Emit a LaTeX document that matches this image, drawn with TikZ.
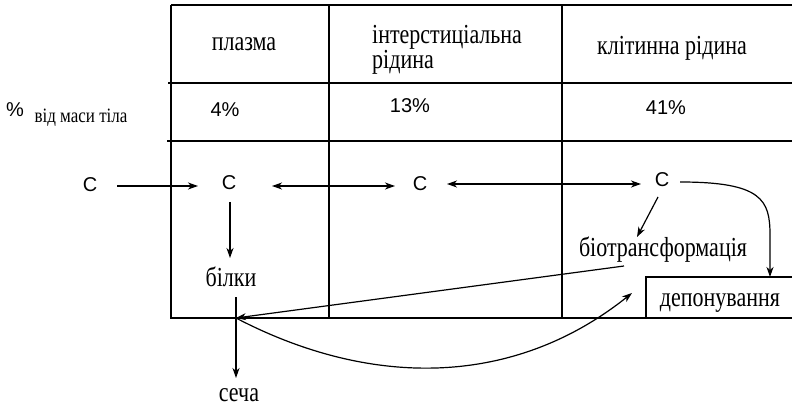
\documentclass[tikz,border=0pt]{standalone}
\usepackage{graphicx}
\usepackage{fontspec}
\setmainfont{Liberation Serif}
\newfontfamily\arialf{Liberation Sans}
\usetikzlibrary{arrows.meta,calc}
\newcommand\tl[1]{\scalebox{1}[1.25]{#1}}
\begin{document}
\begin{tikzpicture}[x=1pt,y=-1pt,
  tab/.style={line width=1.4pt},
  conn/.style={line width=1.2pt,-{Stealth[length=10pt,width=7pt,inset=3pt]}},
  dconn/.style={line width=1.2pt,{Stealth[length=10pt,width=7pt,inset=3pt]}-{Stealth[length=10pt,width=7pt,inset=3pt]}},
  ser/.style={inner sep=0pt,font=\fontsize{22}{21}\selectfont},
  sers/.style={inner sep=0pt,font=\fontsize{17}{17}\selectfont},
  san/.style={inner sep=0pt,font=\arialf\fontsize{20}{20}\selectfont},
]
\useasboundingbox (0,0) rectangle (792,406);
% table
\draw[tab] (171,5) -- (792,5);
\draw[tab] (168,83) -- (792,83);
\draw[tab] (167,141) -- (792,141);
\draw[tab] (171,5) -- (171,318) -- (792,318);
\draw[tab] (329,5) -- (329,318);
\draw[tab] (562,5) -- (562,318);
\draw[tab] (792,277) -- (646,277) -- (646,318);
% headers
\node[ser] (plazma) at (244,44) {\tl{плазма}};
\node[ser,anchor=west,align=left] (inter) at (372,50) {\tl{інтерстиціальна}\\\tl{рідина}};
\node[ser] (klit) at (672,48) {\tl{клітинна рідина}};
% row 2
\node[san] (pct) at (15,110) {\%};
\node[sers] (vid) at (81,118) {\scalebox{1}[1.2]{від маси тіла}};
\node[san] (p4) at (225,110) {4\%};
\node[san] (p13) at (410,106) {13\%};
\node[san] (p41) at (666,108) {41\%};
% row 3
\node[san] (C0) at (90,185) {C};
\node[san] (Cp) at (229,183) {C};
\node[san] (Ci) at (420,184) {C};
\node[san] (Cc) at (662,180) {C};
\node[ser] (bilky) at (231,277) {\tl{білки}};
\node[ser] (secha) at (239,395) {\tl{сеча}};
\node[ser] (biotr) at (663,250) {\tl{біотрансформація}};
\node[ser] (depon) at (720,303) {\tl{депонування}};
\coordinate (hub) at (236,318);
\coordinate (ret) at (632,293);
% connectors
\draw[conn] ($(C0)+(27,1)$) -- ($(Cp)+(-31,3)$);
\draw[dconn] ($(Cp)+(43,3)$) -- ($(Ci)+(-25,2)$);
\draw[dconn] ($(Ci)+(27,0)$) -- ($(Cc)+(-21,4)$);
\draw[conn] ($(Cp)+(1,19)$) -- ($(bilky)+(-1,-19)$);
\draw[conn] ($(bilky)+(5,20)$) -- ($(secha)+(-3,-17)$);
\draw[conn] ($(Cc)+(-4,17)$) -- ($(biotr)+(-26,-13)$);
\draw[conn] ($(biotr)+(-39,16)$) -- (hub);
\draw[conn] (hub) .. controls (370,388) and (513,388) .. (ret);
\draw[conn] ($(Cc)+(18,2)$) .. controls (762,182) and (770,200) .. (770,235) -- ($(depon)+(50,-26)$);
\end{tikzpicture}
\end{document}
